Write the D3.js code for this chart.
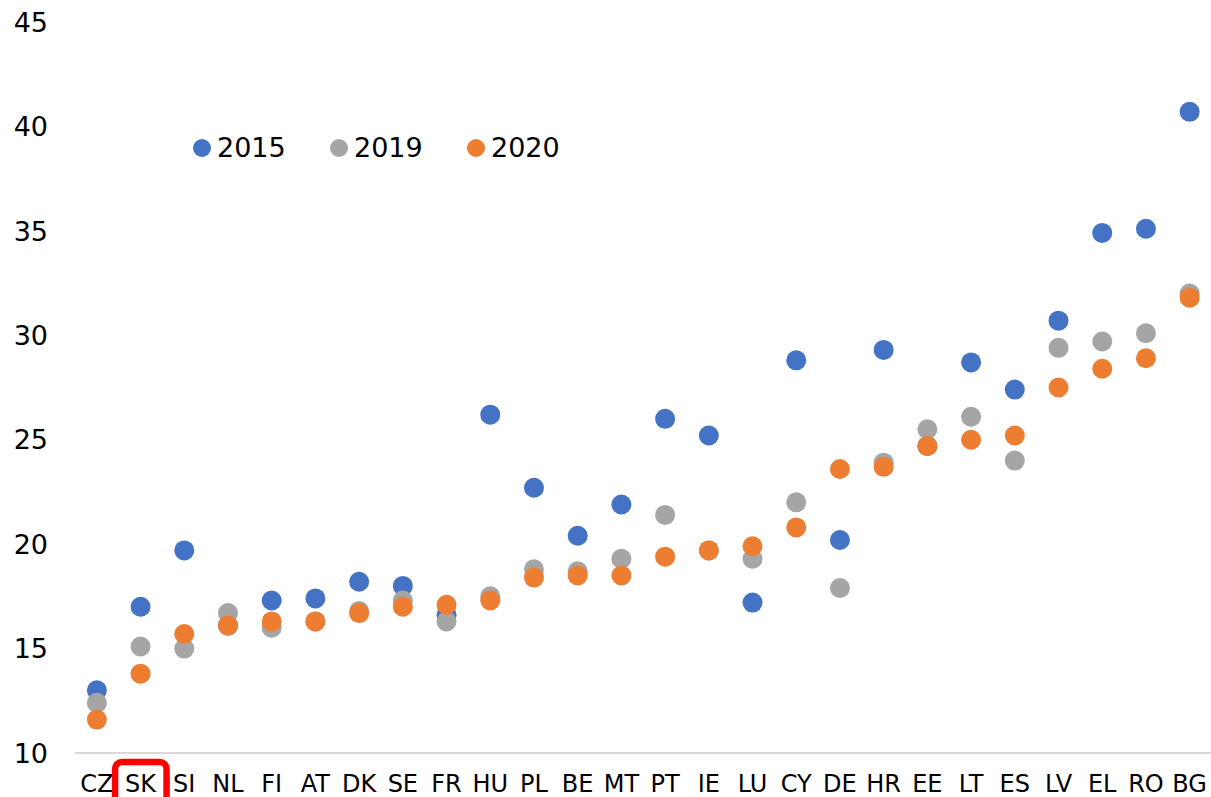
<!DOCTYPE html>
<html>
<head>
<meta charset="utf-8">
<script src="https://cdn.jsdelivr.net/npm/d3@7"></script>
<style>
  html, body { margin: 0; padding: 0; background: #fff; }
  svg { display: block; font-family: "DejaVu Sans", Verdana, sans-serif; }
</style>
</head>
<body>
<svg id="chart" width="1211" height="797"></svg>
<script>
const categories = ["CZ","SK","SI","NL","FI","AT","DK","SE","FR","HU","PL","BE","MT","PT","IE","LU","CY","DE","HR","EE","LT","ES","LV","EL","RO","BG"];
const seriesNames = ["2015", "2019", "2020"];
const values2015 = [13.0, 17.0, 19.7, 16.1, 17.3, 17.4, 18.2, 18.0, 16.6, 26.2, 22.7, 20.4, 21.9, 26.0, 25.2, 17.2, 28.8, 20.2, 29.3, 24.7, 28.7, 27.4, 30.7, 34.9, 35.1, 40.7];
const values2019 = [12.4, 15.1, 15.0, 16.7, 16.0, 16.3, 16.8, 17.3, 16.3, 17.5, 18.8, 18.7, 19.3, 21.4, 19.7, 19.3, 22.0, 17.9, 23.9, 25.5, 26.1, 24.0, 29.4, 29.7, 30.1, 32.0];
const values2020 = [11.6, 13.8, 15.7, 16.1, 16.3, 16.3, 16.7, 17.0, 17.1, 17.3, 18.4, 18.5, 18.5, 19.4, 19.7, 19.9, 20.8, 23.6, 23.7, 24.7, 25.0, 25.2, 27.5, 28.4, 28.9, 31.8];
const yTicks = [10, 15, 20, 25, 30, 35, 40, 45];
const highlighted = "SK";

const colors = ["#4472C4", "#A5A5A5", "#ED7D31"];
const allSeries = [values2015, values2019, values2020];

const svg = d3.select("#chart");
const x = d3.scaleBand().domain(categories).range([75, 1211.5]).padding(0);
const y = d3.scaleLinear().domain([10, 45]).range([753, 22]);

// y tick labels
svg.append("g").selectAll("text").data(yTicks).join("text")
  .attr("x", 48).attr("y", d => y(d)).attr("dy", "0.36em")
  .attr("text-anchor", "end").attr("font-size", 27).attr("fill", "#000")
  .text(d => d);

// x axis line
svg.append("line")
  .attr("x1", x.range()[0]).attr("x2", 1211)
  .attr("y1", y(10)).attr("y2", y(10))
  .attr("stroke", "#d9d9d9").attr("stroke-width", 2);

// category labels
svg.append("g").selectAll("text").data(categories).join("text")
  .attr("x", d => x(d) + x.bandwidth() / 2).attr("y", 792)
  .attr("text-anchor", "middle").attr("font-size", 24).attr("fill", "#000")
  .text(d => d);

// points
allSeries.forEach((vals, i) => {
  svg.append("g").selectAll("circle").data(vals.map((v, j) => ({c: categories[j], v})))
    .join("circle")
    .attr("cx", d => x(d.c) + x.bandwidth() / 2)
    .attr("cy", d => y(d.v))
    .attr("r", 10)
    .attr("fill", colors[i]);
});

// legend
const legendX = [202, 339, 476];
const lg = svg.append("g");
seriesNames.forEach((name, i) => {
  lg.append("circle").attr("cx", legendX[i]).attr("cy", 148).attr("r", 9).attr("fill", colors[i]);
  lg.append("text").attr("x", legendX[i] + 15).attr("y", 157)
    .attr("font-size", 27).attr("fill", "#000").text(name);
});

// highlight box around SK
const hx = x(highlighted) + x.bandwidth() / 2;
svg.append("rect")
  .attr("x", hx - 25.5).attr("y", 762)
  .attr("width", 51.5).attr("height", 70)
  .attr("rx", 7).attr("ry", 7)
  .attr("fill", "none").attr("stroke", "#FF0000").attr("stroke-width", 6.5);
</script>
</body>
</html>
